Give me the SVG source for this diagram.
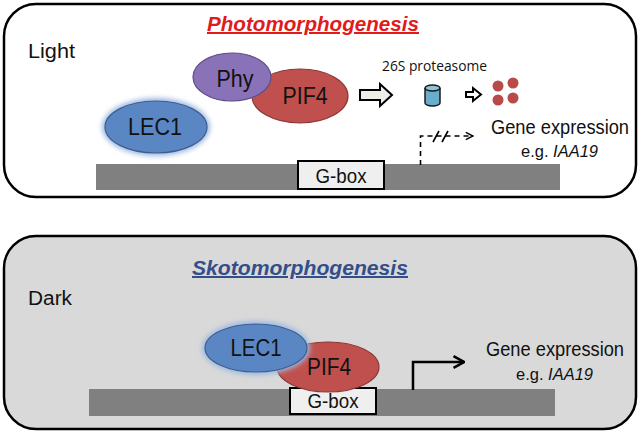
<svg xmlns="http://www.w3.org/2000/svg" width="641" height="434" viewBox="0 0 641 434">
<style>
text{font-family:"Liberation Sans",Arial,sans-serif;fill:#111}
.lbl{font-size:23px;text-anchor:middle}
.title{font-size:20px;font-weight:bold;font-style:italic;text-decoration:underline;text-anchor:middle}
.panel{stroke:#000;stroke-width:2.5}
.dna{fill:#808080}
.gbox{fill:#efefef;stroke:#000;stroke-width:2}
.gtxt{font-size:20px;text-anchor:middle}
.gene{font-size:20px}
.eg{font-size:17px}
.side{font-size:20px}
</style>
<defs>
<filter id="glow" x="-20%" y="-30%" width="140%" height="160%">
<feGaussianBlur stdDeviation="2.5"/>
</filter>
<marker id="ah" viewBox="0 0 10 10" refX="9" refY="5" markerWidth="9" markerHeight="9" orient="auto" markerUnits="userSpaceOnUse">
<path d="M1,1 L9,5 L1,9" fill="none" stroke="#000" stroke-width="1.6"/>
</marker>
<marker id="ah2" viewBox="0 0 12 12" refX="11" refY="6" markerWidth="14" markerHeight="14" orient="auto" markerUnits="userSpaceOnUse">
<path d="M2,1 L11,6 L2,11" fill="none" stroke="#000" stroke-width="2.2"/>
</marker>
</defs>

<g id="panel-light">
<rect class="panel" x="4" y="4" width="632" height="193" rx="32" fill="#fff"/>
<text class="title" x="313" y="31" textLength="212" lengthAdjust="spacingAndGlyphs" style="fill:#e01b1b">Photomorphogenesis</text>
<text class="side" x="28" y="58" textLength="47" lengthAdjust="spacingAndGlyphs">Light</text>
</g>

<g id="dna-light">
<rect class="dna" x="96" y="164" width="464" height="26"/>
</g>
<g id="gbox-light">
<rect class="gbox" x="298" y="161" width="86" height="28"/>
<text class="gtxt" x="341" y="183" textLength="51" lengthAdjust="spacingAndGlyphs">G-box</text>
</g>

<g id="lec1-light">
<ellipse cx="156" cy="127" rx="54" ry="29" fill="#9db8e0" filter="url(#glow)"/>
<ellipse cx="156" cy="127" rx="51" ry="26" fill="#5b86c4" stroke="#3d5f8f" stroke-width="1.2"/>
<text class="lbl" x="155" y="135" textLength="54" lengthAdjust="spacingAndGlyphs">LEC1</text>
</g>

<g id="pif4-light">
<ellipse cx="300" cy="96" rx="48" ry="27" fill="#c0504d" stroke="#8c3836" stroke-width="1.2"/>
<text class="lbl" x="305" y="104" textLength="45" lengthAdjust="spacingAndGlyphs">PIF4</text>
</g>

<g id="phy">
<ellipse cx="232" cy="77" rx="39" ry="24" fill="#8a72b8" stroke="#5e4d85" stroke-width="1.2"/>
<text class="lbl" x="235" y="87" textLength="37" lengthAdjust="spacingAndGlyphs">Phy</text>
</g>

<g id="proteasome">
<text x="382" y="71" font-size="14" textLength="105" lengthAdjust="spacingAndGlyphs" style="font-family:'Open Sans',sans-serif">26S proteasome</text>
<path d="M425,88 v15 a7.5,3 0 0 0 15,0 v-15" fill="#6aaccc" stroke="#1a1a1a" stroke-width="1.5"/>
<ellipse cx="432.5" cy="88" rx="7.5" ry="3" fill="#8cc4dd" stroke="#1a1a1a" stroke-width="1.5"/>
</g>

<g id="fragments" fill="#b84a4a">
<circle cx="498" cy="86" r="5.5"/>
<circle cx="513" cy="83" r="5.5"/>
<circle cx="498" cy="100" r="5.5"/>
<circle cx="513" cy="98" r="5.5"/>
</g>

<g id="gene-light">
<text class="gene" x="491" y="134" textLength="138" lengthAdjust="spacingAndGlyphs">Gene expression</text>
<text class="eg" x="521" y="157" textLength="77" lengthAdjust="spacingAndGlyphs">e.g. <tspan font-style="italic">IAA19</tspan></text>
</g>

<g id="panel-dark-bg">
<rect class="panel" x="4" y="236" width="632" height="193" rx="32" fill="#d9d9d9"/>
<text class="title" x="300" y="275" textLength="216" lengthAdjust="spacingAndGlyphs" style="fill:#344e8a">Skotomorphogenesis</text>
<text class="side" x="28" y="305" textLength="44" lengthAdjust="spacingAndGlyphs">Dark</text>
</g>

<g id="dna-dark">
<rect class="dna" x="89" y="389" width="466" height="27"/>
</g>
<g id="gbox-dark">
<rect class="gbox" x="290" y="388" width="86" height="26"/>
<text class="gtxt" x="333" y="408" textLength="51" lengthAdjust="spacingAndGlyphs">G-box</text>
</g>

<g id="pif4-dark">
<ellipse cx="328" cy="367" rx="51" ry="25" fill="#c0504d" stroke="#8c3836" stroke-width="1.2"/>
<text class="lbl" x="329" y="375" textLength="44" lengthAdjust="spacingAndGlyphs">PIF4</text>
</g>

<g id="lec1-dark">
<ellipse cx="256" cy="348" rx="54" ry="27" fill="#9db8e0" filter="url(#glow)"/>
<ellipse cx="256" cy="348" rx="51" ry="24" fill="#5b86c4" stroke="#3d5f8f" stroke-width="1.2"/>
<text class="lbl" x="256" y="356" textLength="51" lengthAdjust="spacingAndGlyphs">LEC1</text>
</g>

<g id="gene-dark">
<text class="gene" x="486" y="356" textLength="138" lengthAdjust="spacingAndGlyphs">Gene expression</text>
<text class="eg" x="516" y="380" textLength="77" lengthAdjust="spacingAndGlyphs">e.g. <tspan font-style="italic">IAA19</tspan></text>
</g>

<g id="connectors">
<path d="M360,90 h20 v-6 l12,11 l-12,11 v-6 h-20 z" fill="#eeeee6" stroke="#000" stroke-width="2"/>
<path d="M466,92 h7 v-4 l8,6.5 l-8,6.5 v-4 h-7 z" fill="#fff" stroke="#000" stroke-width="2"/>
<path d="M420.5,165 V136 H473" fill="none" stroke="#000" stroke-width="1.6" stroke-dasharray="5,4" marker-end="url(#ah)"/>
<path d="M433,142 l6,-11 M442,142 l6,-11" stroke="#000" stroke-width="1.6" fill="none"/>
<path d="M413,390 V362 H464" fill="none" stroke="#000" stroke-width="2.5" marker-end="url(#ah2)"/>
</g>
</svg>
